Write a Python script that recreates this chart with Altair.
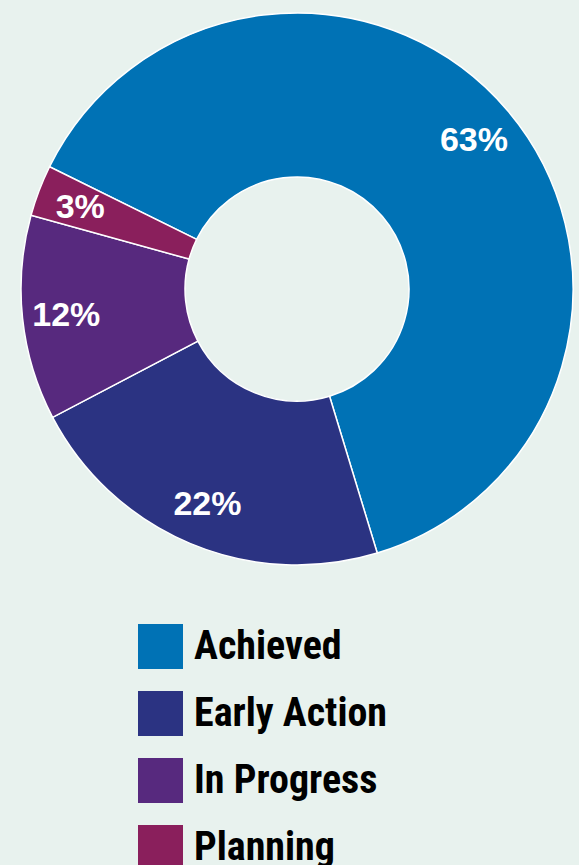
import altair as alt
import pandas as pd

categories = ["Achieved", "Early Action", "In Progress", "Planning"]
values = [63, 22, 12, 3]
labels = ["63%", "22%", "12%", "3%"]
colors = ["#0072b5", "#2b3382", "#57297e", "#8a1f5c"]

df = pd.DataFrame({"category": categories, "value": values, "label": labels,
                   "order": list(range(len(categories)))})

start = 5.1714
theta_scale = alt.Scale(range=[start, start + 6.28318])

base = alt.Chart(df).encode(
    theta=alt.Theta("value:Q", stack=True, scale=theta_scale),
    order=alt.Order("order:Q"),
)

arcs = base.mark_arc(outerRadius=276, innerRadius=112, stroke="white", strokeWidth=1.5).encode(
    x=alt.value(297), y=alt.value(289),
    color=alt.Color(
        "category:N",
        scale=alt.Scale(domain=categories, range=colors),
        sort=categories,
        legend=alt.Legend(
            title=None, orient="none", legendX=138, legendY=624,
            symbolType="square", symbolSize=2025, symbolStrokeWidth=0,
            labelFont="Roboto Condensed, Roboto, sans-serif",
            labelFontSize=40, labelFontWeight="bold", labelColor="#000000",
            labelOffset=11, rowPadding=22, padding=0, labelLimit=400,
        ),
    ),
)

text = base.mark_text(
    radius=232, color="white", fontSize=34, fontWeight="bold",
    font="Liberation Sans, Arial, sans-serif",
).encode(
    x=alt.value(297), y=alt.value(291),
    text="label:N",
)

chart = (arcs + text).properties(
    width=579, height=865,
    autosize=alt.AutoSizeParams(type="none"),
    padding=0,
    background="#e8f2ee",
).configure_view(stroke=None)

chart.save("out.html", embed_options={"renderer": "svg", "actions": False})
